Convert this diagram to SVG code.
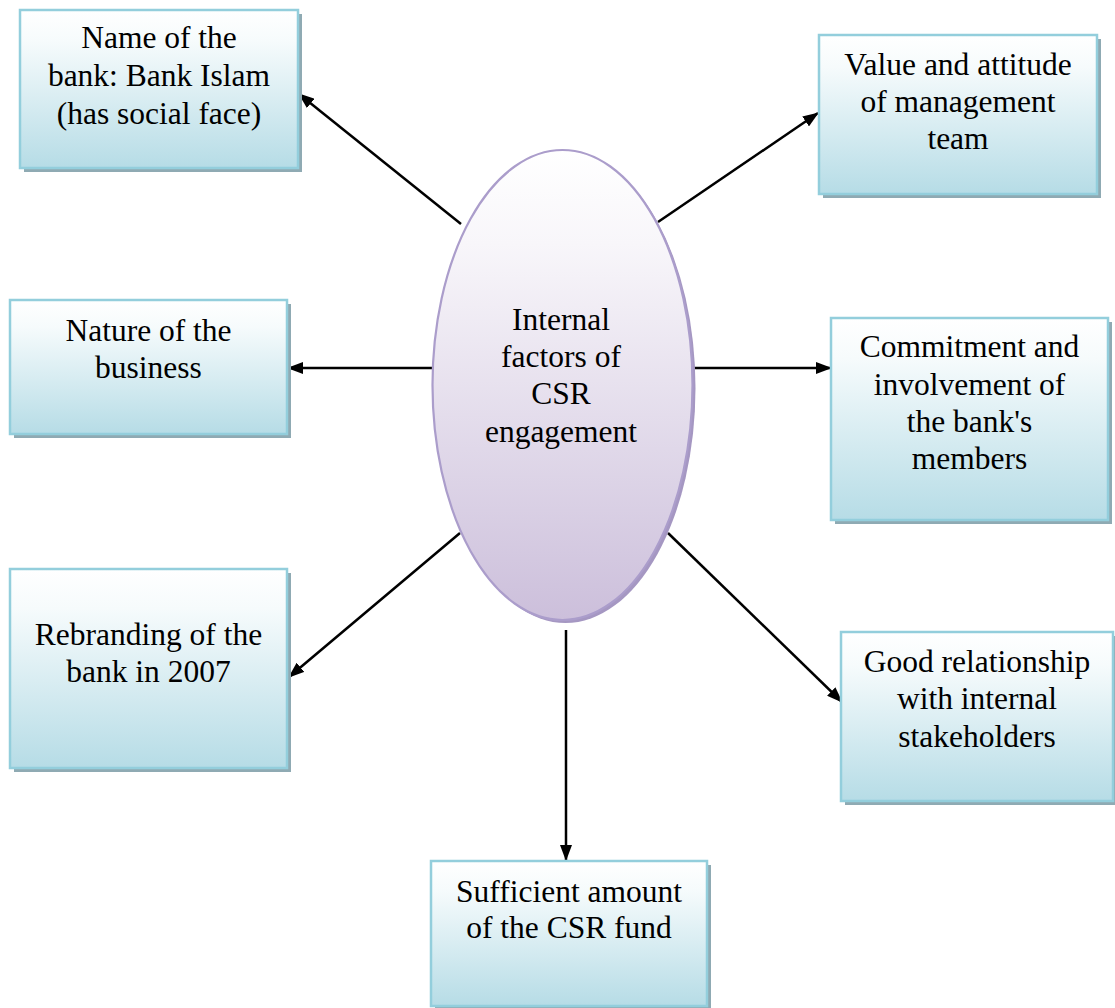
<svg xmlns="http://www.w3.org/2000/svg" width="1115" height="1008" viewBox="0 0 1115 1008">
  <defs>
    <linearGradient id="boxFill" x1="0" y1="0" x2="0" y2="1">
      <stop offset="0" stop-color="#ffffff"/>
      <stop offset="0.2" stop-color="#f6fbfc"/>
      <stop offset="1" stop-color="#b6dce6"/>
    </linearGradient>
    <linearGradient id="ovalFill" x1="0" y1="0" x2="0" y2="1">
      <stop offset="0" stop-color="#ffffff"/>
      <stop offset="0.2" stop-color="#f8f6fa"/>
      <stop offset="1" stop-color="#ccbfdb"/>
    </linearGradient>
    <marker id="arrow" viewBox="0 0 16 12" refX="15" refY="6" markerWidth="16" markerHeight="12" markerUnits="userSpaceOnUse" orient="auto">
      <path d="M0,0 L16,6 L0,12 Z" fill="#000"/>
    </marker>
  </defs>
  <style>
    .shadow { fill: #8faab3; }
    .box { fill: url(#boxFill); stroke: #93cedc; stroke-width: 2.5; }
    .oval-shadow { fill: #a597c2; }
    .oval { fill: url(#ovalFill); stroke: #ab9dcb; stroke-width: 2.2; }
    .label { font-family: "Liberation Serif", "Times New Roman", serif; font-size: 31.5px; fill: #000; text-anchor: middle; }
    .edge { stroke: #000; stroke-width: 2.5; fill: none; marker-end: url(#arrow); }
  </style>
  <rect width="1115" height="1008" fill="#ffffff"/>

  <g id="connectors">
    <line class="edge" x1="461" y1="224" x2="299" y2="94"/>
    <line class="edge" x1="658" y1="222" x2="818" y2="113"/>
    <line class="edge" x1="432" y1="368" x2="288" y2="368"/>
    <line class="edge" x1="692" y1="368" x2="831" y2="368"/>
    <line class="edge" x1="460" y1="533" x2="289" y2="677"/>
    <line class="edge" x1="668" y1="533" x2="842" y2="702"/>
    <line class="edge" x1="566" y1="630" x2="566" y2="860"/>
  </g>

  <g id="center">
    <ellipse class="oval-shadow" cx="565.5" cy="388" rx="130" ry="235"/>
    <ellipse class="oval" cx="562.5" cy="385" rx="130" ry="235"/>
    <text class="label" x="561" y="330">Internal</text>
    <text class="label" x="561" y="367">factors of</text>
    <text class="label" x="561" y="404">CSR</text>
    <text class="label" x="561" y="442">engagement</text>
  </g>

  <g id="bank-name">
    <rect class="shadow" x="24" y="14" width="278" height="158"/>
    <rect class="box" x="20" y="10" width="278" height="158"/>
    <text class="label" x="159" y="48">Name of the</text>
    <text class="label" x="159" y="86">bank: Bank Islam</text>
    <text class="label" x="159" y="124">(has social face)</text>
  </g>

  <g id="management">
    <rect class="shadow" x="823" y="39" width="278" height="159"/>
    <rect class="box" x="819" y="35" width="278" height="159"/>
    <text class="label" x="958" y="75">Value and attitude</text>
    <text class="label" x="958" y="112">of management</text>
    <text class="label" x="958" y="149">team</text>
  </g>

  <g id="business">
    <rect class="shadow" x="14" y="304" width="277" height="134"/>
    <rect class="box" x="10" y="300" width="277" height="134"/>
    <text class="label" x="148.5" y="341">Nature of the</text>
    <text class="label" x="148.5" y="378">business</text>
  </g>

  <g id="members">
    <rect class="shadow" x="835" y="322" width="277" height="202"/>
    <rect class="box" x="831" y="318" width="277" height="202"/>
    <text class="label" x="969.5" y="357">Commitment and</text>
    <text class="label" x="969.5" y="395">involvement of</text>
    <text class="label" x="969.5" y="432">the bank's</text>
    <text class="label" x="969.5" y="469">members</text>
  </g>

  <g id="rebranding">
    <rect class="shadow" x="14" y="573" width="277" height="199"/>
    <rect class="box" x="10" y="569" width="277" height="199"/>
    <text class="label" x="148.5" y="645">Rebranding of the</text>
    <text class="label" x="148.5" y="682">bank in 2007</text>
  </g>

  <g id="stakeholders">
    <rect class="shadow" x="845" y="636" width="274" height="169"/>
    <rect class="box" x="841" y="632" width="272" height="169"/>
    <text class="label" x="977" y="672">Good relationship</text>
    <text class="label" x="977" y="709">with internal</text>
    <text class="label" x="977" y="747">stakeholders</text>
  </g>

  <g id="fund">
    <rect class="shadow" x="435" y="865" width="276" height="145"/>
    <rect class="box" x="431" y="861" width="276" height="145"/>
    <text class="label" x="569" y="902">Sufficient amount</text>
    <text class="label" x="569" y="938">of the CSR fund</text>
  </g>
</svg>
